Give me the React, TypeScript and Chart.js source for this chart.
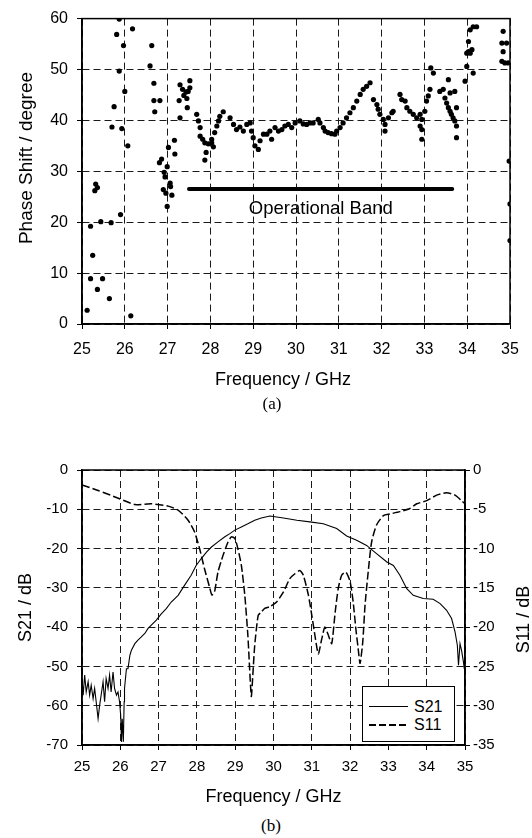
import React, { useEffect, useRef } from "react";
import { Chart, registerables } from "chart.js";

Chart.register(...registerables);

const SANS = "'Liberation Sans', Arial, sans-serif";
const SERIF = "'Liberation Serif', 'Times New Roman', serif";

// ---------- (a) Phase shift scatter ----------
const phaseFreq = [
  25.12, 25.2, 25.2, 25.25, 25.3, 25.32, 25.36, 25.36, 25.44, 25.48,
  25.64, 25.68, 25.7, 25.75, 25.81, 25.87, 25.87, 25.9, 25.93, 25.97,
  26.0, 26.07, 26.14, 26.18, 26.59, 26.63, 26.68, 26.68, 26.7, 26.82,
  26.81, 26.86, 26.9, 26.92, 26.94, 26.96, 26.99, 26.99, 27.02, 27.06,
  27.07, 27.1, 27.16, 27.17, 27.27, 27.29, 27.29, 27.35, 27.38, 27.43,
  27.45, 27.46, 27.48, 27.52, 27.52, 27.68, 27.72, 27.76, 27.76, 27.82,
  27.87, 27.87, 27.9, 27.95, 28.03, 28.03, 28.07, 28.1, 28.15, 28.19,
  28.22, 28.3, 28.46, 28.54, 28.61, 28.69, 28.77, 28.85, 28.93, 28.96,
  29.0, 29.04, 29.12, 29.16, 29.24, 29.32, 29.39, 29.43, 29.51, 29.59,
  29.67, 29.74, 29.82, 29.9, 29.98, 30.09, 30.17, 30.25, 30.33, 30.4,
  30.52, 30.56, 30.64, 30.68, 30.75, 30.83, 30.91, 30.95, 31.03, 31.1,
  31.18, 31.26, 31.34, 31.42, 31.5, 31.57, 31.65, 31.73, 31.81, 31.89,
  31.92, 31.96, 32.04, 32.08, 32.08, 32.16, 32.24, 32.27, 32.43, 32.47,
  32.55, 32.59, 32.66, 32.74, 32.82, 32.9, 32.94, 32.9, 32.94, 32.94,
  33.01, 33.05, 33.09, 33.13, 33.15, 33.21, 33.36, 33.44, 33.48, 33.52,
  33.56, 33.56, 33.6, 33.6, 33.63, 33.67, 33.71, 33.71, 33.75, 33.75,
  33.75, 33.95, 33.99, 33.99, 34.03, 34.03, 34.07, 34.07, 34.11, 34.14,
  34.14, 34.22, 34.81, 34.81, 34.84, 34.84, 34.88, 34.92, 34.96, 34.98,
  35.0, 35.0,
];
const phaseDeg = [
  2.7, 19.2, 8.9, 13.5, 26.2, 27.5, 26.8, 6.8, 20.1, 8.9,
  5.0, 19.9, 38.7, 42.7, 56.9, 59.9, 49.7, 21.5, 38.4, 54.7,
  45.7, 35.0, 1.6, 58.0, 50.7, 54.7, 47.3, 43.9, 41.7, 43.9,
  31.7, 32.4, 26.4, 29.8, 28.9, 25.7, 30.9, 23.1, 34.7, 27.7,
  27.0, 25.3, 36.1, 33.4, 43.9, 47.0, 40.5, 46.1, 44.9, 45.6,
  44.3, 42.5, 45.7, 47.8, 46.4, 41.2, 39.9, 38.6, 36.9, 36.3,
  35.6, 32.2, 33.7, 35.4, 35.6, 36.3, 34.8, 37.6, 38.9, 39.9,
  40.8, 41.7, 40.5, 39.2, 38.2, 38.7, 37.9, 39.2, 39.5, 37.9,
  36.6, 35.0, 34.3, 36.0, 37.3, 37.3, 37.9, 36.3, 38.6, 37.9,
  38.2, 38.9, 39.2, 38.6, 39.5, 39.9, 39.3, 39.2, 39.5, 39.5,
  40.2, 39.5, 38.6, 37.9, 37.6, 37.4, 37.3, 37.9, 38.6, 39.5,
  40.5, 41.5, 42.5, 43.8, 45.1, 46.1, 46.7, 47.4, 44.1, 43.1,
  42.2, 41.2, 40.2, 39.2, 37.9, 40.5, 41.5, 41.8, 45.1, 44.1,
  43.8, 42.5, 41.8, 41.2, 40.5, 41.2, 40.2, 38.9, 38.2, 36.3,
  41.8, 43.8, 44.8, 46.1, 50.3, 49.3, 45.7, 46.1, 44.4, 43.4,
  42.5, 48.0, 41.8, 45.4, 41.2, 40.5, 39.9, 45.7, 38.9, 42.5,
  36.6, 47.7, 50.6, 53.2, 53.5, 55.5, 53.2, 57.8, 53.9, 58.4,
  49.3, 58.4, 55.2, 51.6, 57.5, 53.5, 51.3, 55.2, 51.3, 32.0,
  23.6, 16.4,
];
const bandFreq = [27.5, 33.65];
const bandDeg = [26.5, 26.5];
const bandLabel = "Operational Band";
const bandLabelAt = [30.58, 22.7];

const aXTicks = [25, 26, 27, 28, 29, 30, 31, 32, 33, 34, 35];
const aYTicks = [0, 10, 20, 30, 40, 50, 60];
const aXTitle = "Frequency / GHz";
const aYTitle = "Phase Shift / degree";

// ---------- (b) S21 / S11 ----------
const s21Freq = [
  25.0, 25.03, 25.07, 25.11, 25.16, 25.2, 25.24, 25.29, 25.33, 25.37,
  25.42, 25.46, 25.5, 25.55, 25.59, 25.63, 25.68, 25.72, 25.76, 25.81,
  25.85, 25.9, 25.94, 25.98, 26.01, 26.03, 26.05, 26.08, 26.1, 26.11,
  26.16, 26.2, 26.25, 26.29, 26.38, 26.46, 26.55, 26.64, 26.72, 26.81,
  26.94, 27.07, 27.2, 27.33, 27.51, 27.68, 27.85, 27.98, 28.11, 28.25,
  28.38, 28.55, 28.73, 28.86, 28.99, 29.16, 29.33, 29.51, 29.68, 29.91,
  30.26, 30.61, 30.95, 31.3, 31.65, 31.91, 32.17, 32.43, 32.69, 32.96,
  33.13, 33.3, 33.48, 33.65, 33.91, 34.17, 34.35, 34.52, 34.65, 34.74,
  34.8, 34.83, 34.87, 34.91, 34.96, 34.98,
];
const s21Db = [
  -53.1, -57.3, -52.2, -56.5, -53.9, -57.3, -54.8, -58.2, -55.6, -59.0,
  -63.3, -59.9, -57.3, -53.9, -59.0, -53.1, -55.6, -52.2, -56.5, -51.4,
  -55.6, -57.3, -56.5, -59.0, -62.4, -69.2, -63.3, -69.2, -59.0, -55.6,
  -50.6, -50.6, -47.2, -45.9, -44.2, -43.3, -42.5, -41.6, -40.4, -39.5,
  -38.2, -36.6, -35.3, -33.6, -31.9, -29.3, -26.8, -24.3, -22.6, -20.9,
  -19.6, -18.3, -17.0, -16.2, -15.3, -14.5, -13.7, -12.8, -12.2, -11.7,
  -12.2, -12.8, -13.2, -13.7, -14.9, -16.8, -17.9, -19.2, -21.3, -23.4,
  -24.3, -26.8, -30.2, -31.9, -32.7, -32.9, -34.0, -35.7, -37.8, -41.2,
  -44.6, -49.7, -44.2, -45.9, -48.9, -50.6,
];
const s11Freq = [
  25.0, 25.42, 25.98, 26.38, 26.81, 27.25, 27.51, 27.77, 27.94, 28.07,
  28.2, 28.33, 28.39, 28.46, 28.55, 28.68, 28.81, 28.9, 28.99, 29.07,
  29.16, 29.25, 29.33, 29.42, 29.46, 29.51, 29.6, 29.68, 29.77, 29.9,
  30.08, 30.26, 30.43, 30.56, 30.69, 30.78, 30.91, 31.0, 31.08, 31.17,
  31.26, 31.34, 31.43, 31.52, 31.61, 31.69, 31.78, 31.89, 32.0, 32.08,
  32.15, 32.21, 32.26, 32.33, 32.39, 32.48, 32.56, 32.69, 32.87, 33.04,
  33.3, 33.56, 33.74, 34.0, 34.26, 34.52, 34.74, 34.91, 35.0,
];
const s11Db = [
  -1.9, -2.6, -3.65, -4.4, -4.3, -4.6, -5.1, -6.4, -7.9, -10.0,
  -12.6, -14.9, -15.9, -15.5, -13.0, -10.9, -9.2, -8.5, -8.7, -10.0,
  -12.1, -15.9, -21.0, -28.8, -26.1, -22.3, -18.5, -18.1, -17.6, -17.4,
  -16.8, -15.5, -13.8, -13.2, -12.8, -13.4, -15.9, -18.5, -21.0, -23.4,
  -21.5, -20.0, -21.0, -22.1, -18.1, -15.1, -13.4, -13.0, -14.2, -16.8,
  -20.2, -22.7, -24.6, -21.9, -17.2, -12.6, -9.2, -7.0, -5.8, -5.6,
  -5.3, -4.9, -4.3, -3.9, -3.2, -2.9, -3.2, -3.9, -4.3,
];
const bXTicks = [25, 26, 27, 28, 29, 30, 31, 32, 33, 34, 35];
const bLeftTicks = [-70, -60, -50, -40, -30, -20, -10, 0];
const bRightTicks = [-35, -30, -25, -20, -15, -10, -5, 0];
const seriesNames = ["S21", "S11"];

const GRID = "#1a1a1a";
const DASH = [7, 4];

const framePlugin = {
  id: "frame",
  afterDraw(chart: any) {
    const { ctx, chartArea } = chart;
    const { left, top, right, bottom } = chartArea;
    ctx.save();
    ctx.strokeStyle = "#000";
    ctx.lineWidth = 1.5;
    ctx.strokeRect(left, top, right - left, bottom - top);
    ctx.restore();
  },
};

function fixedTicks(values: number[]) {
  return (scale: any) => {
    scale.ticks = values.map((v) => ({ value: v }));
  };
}

function drawText(ctx: any, text: string, x: number, y: number, size: number, rot = 0) {
  ctx.save();
  ctx.font = `${size}px ${SANS}`;
  ctx.fillStyle = "#000";
  ctx.textAlign = "center";
  ctx.textBaseline = "middle";
  ctx.translate(x, y);
  if (rot) ctx.rotate(rot);
  ctx.fillText(text, 0, 0);
  ctx.restore();
}

export default function App() {
  const refA = useRef<HTMLCanvasElement>(null);
  const refB = useRef<HTMLCanvasElement>(null);

  useEffect(() => {
    const labelsAPlugin = {
      id: "labelsA",
      afterDraw(chart: any) {
        const { ctx, scales } = chart;
        const x = scales.x.getPixelForValue(bandLabelAt[0]);
        const y = scales.y.getPixelForValue(bandLabelAt[1]);
        drawText(ctx, bandLabel, x, y, 18.5);
        drawText(ctx, aXTitle, 283, 380, 18);
        drawText(ctx, aYTitle, 27, 158, 19, -Math.PI / 2);
      },
    };

    const chartA = new Chart(refA.current!, {
      type: "scatter",
      data: {
        datasets: [
          {
            label: "Phase",
            data: phaseFreq.map((f, i) => ({ x: f, y: phaseDeg[i] })),
            pointRadius: 2.6,
            pointBorderWidth: 0,
            pointBackgroundColor: "#000",
            borderColor: "#000",
          },
          {
            label: bandLabel,
            type: "line" as any,
            data: bandFreq.map((f, i) => ({ x: f, y: bandDeg[i] })),
            borderColor: "#000",
            borderWidth: 4,
            pointRadius: 0,
            borderCapStyle: "round",
          } as any,
        ],
      },
      options: {
        animation: false,
        responsive: false,
        layout: { padding: { top: 17, right: 22, left: 0, bottom: 0 } },
        plugins: { legend: { display: false }, tooltip: { enabled: false } },
        scales: {
          x: {
            type: "linear",
            min: 25,
            max: 35,
            afterBuildTicks: fixedTicks(aXTicks),
            afterFit: (s: any) => { s.height = 71; },
            ticks: { color: "#000", font: { family: SANS, size: 16 }, padding: 11 },
            grid: { color: GRID, lineWidth: 1, tickLength: 5, tickColor: "#000" },
            border: { color: "#000", width: 1.5, dash: DASH },
          },
          y: {
            type: "linear",
            min: 0,
            max: 60,
            afterBuildTicks: fixedTicks(aYTicks),
            afterFit: (s: any) => { s.width = 82; },
            ticks: { color: "#000", font: { family: SANS, size: 16 }, padding: 9 },
            grid: { color: GRID, lineWidth: 1, tickLength: 5, tickColor: "#000" },
            border: { color: "#000", width: 1.5, dash: DASH },
          },
        },
      },
      plugins: [framePlugin, labelsAPlugin],
    });

    const rightTitlePlugin = {
      id: "rightTitle",
      afterDraw(chart: any) {
        const { ctx, chartArea } = chart;
        drawText(ctx, "S11 / dB", 524, (chartArea.top + chartArea.bottom) / 2 + 12, 18, -Math.PI / 2);
      },
    };

    const chartB = new Chart(refB.current!, {
      type: "line",
      data: {
        datasets: [
          {
            label: seriesNames[0],
            data: s21Freq.map((f, i) => ({ x: f, y: s21Db[i] })),
            borderColor: "#000",
            borderWidth: 1.1,
            pointRadius: 0,
            tension: 0,
            yAxisID: "y",
          },
          {
            label: seriesNames[1],
            data: s11Freq.map((f, i) => ({ x: f, y: s11Db[i] })),
            borderColor: "#000",
            borderWidth: 1.5,
            borderDash: [8, 3],
            pointRadius: 0,
            tension: 0.2,
            yAxisID: "y1",
          },
        ],
      },
      options: {
        animation: false,
        responsive: false,
        layout: { padding: { top: 30, right: 0, left: 0, bottom: 0 } },
        plugins: { legend: { display: false }, tooltip: { enabled: false } },
        scales: {
          x: {
            type: "linear",
            min: 25,
            max: 35,
            afterBuildTicks: fixedTicks(bXTicks),
            afterFit: (s: any) => { s.height = 65; },
            ticks: { color: "#000", font: { family: SANS, size: 15 }, padding: 8 },
            grid: { color: GRID, lineWidth: 1, tickLength: 5, tickColor: "#000" },
            border: { color: "#000", width: 1.5, dash: DASH },
            title: {
              display: true,
              text: "Frequency / GHz",
              color: "#000",
              font: { family: SANS, size: 18 },
              padding: { top: 0, bottom: 2 },
            },
          },
          y: {
            type: "linear",
            position: "left",
            min: -70,
            max: 0,
            afterBuildTicks: fixedTicks(bLeftTicks),
            afterFit: (s: any) => { s.width = 82; },
            ticks: { color: "#000", font: { family: SANS, size: 15 }, padding: 9 },
            grid: { color: GRID, lineWidth: 1, tickLength: 5, tickColor: "#000" },
            border: { color: "#000", width: 1.5, dash: DASH },
            title: {
              display: true,
              text: "S21 / dB",
              color: "#000",
              font: { family: SANS, size: 18 },
              padding: { top: 15, bottom: 0 },
            },
          },
          y1: {
            type: "linear",
            position: "right",
            min: -35,
            max: 0,
            afterBuildTicks: fixedTicks(bRightTicks),
            afterFit: (s: any) => { s.width = 67; },
            ticks: { color: "#000", font: { family: SANS, size: 15 }, padding: 3 },
            grid: { drawOnChartArea: false, tickLength: 5, tickColor: "#000", color: "#000" },
            border: { color: "#000", width: 1.5 },
          },
        },
      },
      plugins: [framePlugin, rightTitlePlugin],
    });

    return () => {
      chartA.destroy();
      chartB.destroy();
    };
  }, []);

  const legendRow = (name: string, dashed: boolean, y: number) => (
    <div key={name} style={{ position: "absolute", left: 0, top: y, width: 93, height: 18 }}>
      <div
        style={{
          position: "absolute",
          left: 6,
          top: 8,
          width: 39,
          height: dashed ? 1.5 : 1,
          background: dashed
            ? "repeating-linear-gradient(to right, #000 0px, #000 7px, transparent 7px, transparent 10px)"
            : "#000",
        }}
      />
      <div
        style={{
          position: "absolute",
          left: 51,
          top: 0,
          lineHeight: "18px",
          fontFamily: SANS,
          fontSize: 16,
          color: "#000",
        }}
      >
        {name}
      </div>
    </div>
  );

  return (
    <div style={{ position: "absolute", left: 0, top: 0, width: 532, height: 838, background: "#fff" }}>
      <canvas
        ref={refA}
        width={532}
        height={395}
        style={{ position: "absolute", left: 0, top: 0, width: 532, height: 395 }}
      />
      <div
        style={{
          position: "absolute",
          left: 242,
          top: 395,
          width: 60,
          textAlign: "center",
          fontFamily: SERIF,
          fontSize: 17,
          lineHeight: "17px",
          color: "#000",
        }}
      >
        (a)
      </div>
      <canvas
        ref={refB}
        width={532}
        height={370}
        style={{ position: "absolute", left: 0, top: 440, width: 532, height: 370 }}
      />
      <div
        style={{
          position: "absolute",
          left: 362,
          top: 686,
          width: 93,
          height: 56,
          boxSizing: "border-box",
          border: "1px solid #000",
          background: "#fff",
        }}
      >
        {legendRow(seriesNames[0], false, 11)}
        {legendRow(seriesNames[1], true, 29)}
      </div>
      <div
        style={{
          position: "absolute",
          left: 241,
          top: 817,
          width: 60,
          textAlign: "center",
          fontFamily: SERIF,
          fontSize: 17,
          lineHeight: "17px",
          color: "#000",
        }}
      >
        (b)
      </div>
    </div>
  );
}
